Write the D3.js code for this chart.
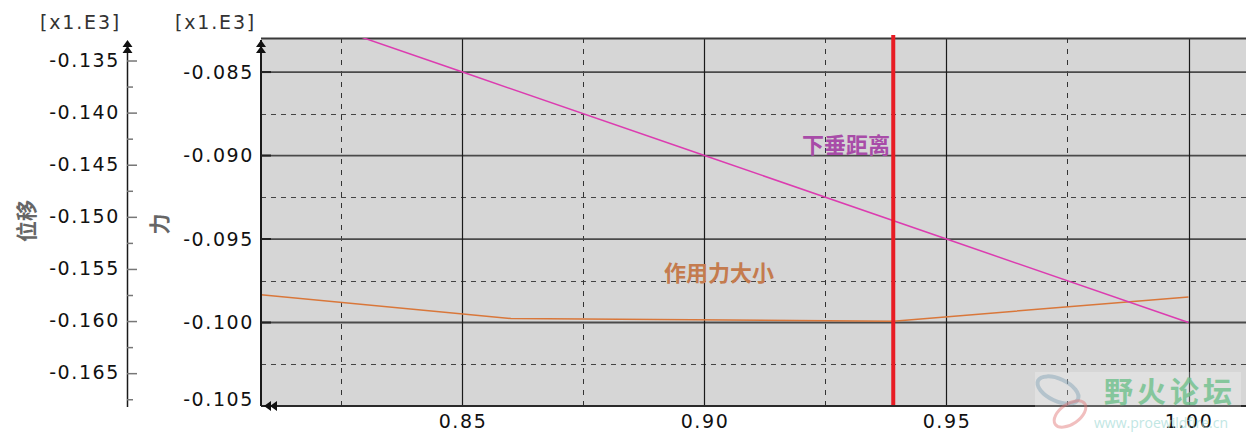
<!DOCTYPE html>
<html><head><meta charset="utf-8">
<script src="https://cdn.jsdelivr.net/npm/d3@7"></script>
<style>html,body{margin:0;padding:0;background:#fff;}svg{display:block;}</style>
</head><body>
<svg id="c" width="1246" height="438"></svg>
<script>
// ---- data ----
const xTicks = [0.85, 0.90, 0.95, 1.00];
const xMinorTicks = [0.825, 0.875, 0.925, 0.975];
const forceTicks = [-0.085, -0.090, -0.095, -0.100, -0.105];
const forceMinorTicks = [-0.0875, -0.0925, -0.0975, -0.1025];
const dispTicks = [-0.135, -0.140, -0.145, -0.150, -0.155, -0.160, -0.165];
const dispMinorTicks = [-0.1375, -0.1425, -0.1475, -0.1525, -0.1575, -0.1625, -0.1675];
const sagX = [0.80, 0.85, 0.90, 0.95, 1.00];
const sagY = [-0.080, -0.085, -0.090, -0.095, -0.100];
const forceX = [0.80, 0.86, 0.939, 1.00];
const forceY = [-0.0981, -0.09976, -0.09992, -0.09847];
const markerX = 0.939;
const labels = { sag: "下垂距离", force: "作用力大小", disp: "位移", forceAxis: "力", scale: "[x1.E3]" };

// ---- layout ----
const svg = d3.select("#c");
const L = 261, R = 1246, T = 38, B = 406;
const x = d3.scaleLinear().domain([0.80837, 1.01188]).range([L, R]);
const yF = d3.scaleLinear().domain([-0.105, -0.08296]).range([B, T]);
const yD = d3.scaleLinear().domain([-0.16815, -0.13284]).range([B, T]);
const loc = d3.formatLocale({ decimal: ".", thousands: ",", grouping: [3], currency: ["", ""], minus: "-" });
const fmt = loc.format(".3f");
const fmt2 = loc.format(".2f");
const tickFont = "'DejaVu Sans', Verdana, sans-serif";
const cjk = "'Noto Sans CJK SC', sans-serif";
const FS = 19, LS = 1.6;

// plot background
svg.append("rect").attr("x", L).attr("y", T).attr("width", R - L).attr("height", B - T).attr("fill", "#d6d6d6");

const clip = svg.append("defs").append("clipPath").attr("id", "pc");
clip.append("rect").attr("x", L).attr("y", T).attr("width", R - L).attr("height", B - T);

// grid
const g = svg.append("g");
g.selectAll(".hm").data(forceMinorTicks).join("line")
  .attr("x1", L).attr("x2", R).attr("y1", d => Math.round(yF(d)) + 0.5).attr("y2", d => Math.round(yF(d)) + 0.5)
  .attr("stroke", "#444").attr("stroke-width", 1).attr("stroke-dasharray", "5,5");
g.selectAll(".vm").data(xMinorTicks).join("line")
  .attr("y1", T).attr("y2", B).attr("x1", d => Math.round(x(d)) + 0.5).attr("x2", d => Math.round(x(d)) + 0.5)
  .attr("stroke", "#333").attr("stroke-width", 1).attr("stroke-dasharray", "5,6");
g.selectAll(".hM").data(forceTicks.slice(0, -1)).join("line")
  .attr("x1", L).attr("x2", R).attr("y1", d => yF(d)).attr("y2", d => yF(d))
  .attr("stroke", "#4a4a4a").attr("stroke-width", 1.8);
g.selectAll(".vM").data(xTicks).join("line")
  .attr("y1", T).attr("y2", B).attr("x1", d => Math.round(x(d)) + 0.5).attr("x2", d => Math.round(x(d)) + 0.5)
  .attr("stroke", "#1a1a1a").attr("stroke-width", 1.2);
// top border
svg.append("line").attr("x1", L).attr("x2", R).attr("y1", T + 0.5).attr("y2", T + 0.5).attr("stroke", "#3a3a3a").attr("stroke-width", 2);

// series
const plot = svg.append("g").attr("clip-path", "url(#pc)");
const lineF = d3.line().x(d => x(d[0])).y(d => yF(d[1]));
plot.append("path").datum(d3.zip(forceX, forceY)).attr("d", lineF)
  .attr("fill", "none").attr("stroke", "#d9773a").attr("stroke-width", 1.5);
plot.append("path").datum(d3.zip(sagX, sagY)).attr("d", lineF)
  .attr("fill", "none").attr("stroke", "#dc3cb0").attr("stroke-width", 1.5);

// marker line
svg.append("line").attr("x1", x(markerX)).attr("x2", x(markerX)).attr("y1", T - 3).attr("y2", B)
  .attr("stroke", "#e81c24").attr("stroke-width", 4);

// series labels
svg.append("text").attr("x", 890).attr("y", 153).attr("text-anchor", "end")
  .attr("font-family", cjk).attr("font-weight", "bold").attr("font-size", 22).attr("fill", "#a84ca8").text(labels.sag);
svg.append("text").attr("x", 664).attr("y", 281)
  .attr("font-family", cjk).attr("font-weight", "bold").attr("font-size", 22).attr("fill", "#c47b4e").text(labels.force);

// bottom axis
svg.append("line").attr("x1", L).attr("x2", R).attr("y1", B).attr("y2", B).attr("stroke", "#2a2a2a").attr("stroke-width", 2);
const xAxis = d3.axisBottom(x).tickValues(xTicks).tickFormat(fmt2).tickSize(0).tickPadding(0);
const xa = svg.append("g").attr("transform", `translate(0,${B})`).call(xAxis);
xa.select(".domain").remove();
xa.selectAll("text").attr("font-family", tickFont).attr("font-size", FS).attr("fill", "#111")
  .attr("dy", null).attr("y", 22).attr("letter-spacing", LS);

// force axis
svg.append("line").attr("x1", L).attr("x2", L).attr("y1", T + 2).attr("y2", B).attr("stroke", "#1a1a1a").attr("stroke-width", 2);
const fAxis = d3.axisLeft(yF).tickValues(forceTicks).tickFormat(fmt).tickSize(0).tickPadding(7);
const fa = svg.append("g").attr("transform", `translate(${L},0)`).call(fAxis);
fa.select(".domain").remove();
fa.selectAll("text").attr("font-family", tickFont).attr("font-size", FS).attr("fill", "#111").attr("letter-spacing", LS)
  .attr("dy", d => d === -0.105 ? "-0.05em" : "0.32em");
svg.selectAll(".ft").data(forceTicks).join("line").attr("x1", L).attr("x2", L + 10)
  .attr("y1", d => yF(d)).attr("y2", d => yF(d)).attr("stroke", "#222").attr("stroke-width", 2);

// displacement axis
const DX = 127;
svg.append("line").attr("x1", DX + 0.5).attr("x2", DX + 0.5).attr("y1", 42).attr("y2", 407).attr("stroke", "#1a1a1a").attr("stroke-width", 1.5);
const dAxis = d3.axisRight(yD).tickValues(dispTicks).tickFormat("").tickSize(10);
const da = svg.append("g").attr("transform", `translate(${DX},0)`).call(dAxis);
da.select(".domain").remove();
da.selectAll("line").attr("stroke", "#777").attr("stroke-width", 1.5);
const dAxisMinor = d3.axisRight(yD).tickValues(dispMinorTicks).tickFormat("").tickSize(6);
const dm = svg.append("g").attr("transform", `translate(${DX},0)`).call(dAxisMinor);
dm.select(".domain").remove();
dm.selectAll("line").attr("stroke", "#777").attr("stroke-width", 1.5);
svg.selectAll(".dl").data(dispTicks).join("text").attr("x", DX - 7).attr("y", d => yD(d)).attr("dy", "0.32em")
  .attr("text-anchor", "end").attr("font-family", tickFont).attr("font-size", FS).attr("fill", "#111").attr("letter-spacing", LS)
  .text(fmt);

// scale labels
svg.append("text").attr("x", 121).attr("y", 29).attr("text-anchor", "end").attr("font-family", tickFont).attr("font-size", FS)
  .attr("fill", "#333").attr("letter-spacing", 1.8).text(labels.scale);
svg.append("text").attr("x", 256).attr("y", 29).attr("text-anchor", "end").attr("font-family", tickFont).attr("font-size", FS)
  .attr("fill", "#333").attr("letter-spacing", 1.8).text(labels.scale);

// axis titles
svg.append("text").attr("transform", "translate(34,221) rotate(-90)").attr("text-anchor", "middle")
  .attr("font-family", cjk).attr("font-weight", "bold").attr("font-size", 21).attr("fill", "#666").text(labels.disp);
svg.append("text").attr("transform", "translate(167,224) rotate(-90)").attr("text-anchor", "middle")
  .attr("font-family", cjk).attr("font-weight", "bold").attr("font-size", 21).attr("fill", "#666").text(labels.forceAxis);

// arrowheads
function upArrows(cx, top) {
  const p = d3.path();
  [0, 6].forEach(o => { p.moveTo(cx, top + o); p.lineTo(cx - 5, top + o + 7); p.lineTo(cx + 5, top + o + 7); p.closePath(); });
  svg.append("path").attr("d", p.toString()).attr("fill", "#111");
}
upArrows(DX + 0.5, 40);
upArrows(L, 40);
(function leftArrows() {
  const p = d3.path();
  [0, 6].forEach(o => { p.moveTo(264 + o, B); p.lineTo(271 + o, B - 5); p.lineTo(271 + o, B + 5); p.closePath(); });
  svg.append("path").attr("d", p.toString()).attr("fill", "#111");
})();

// watermark
const wm = svg.append("g");
wm.append("rect").attr("x", 1035).attr("y", 372).attr("width", 206).attr("height", 36).attr("fill", "#fff").attr("opacity", 0.25);
wm.append("ellipse").attr("cx", 1058).attr("cy", 390).attr("rx", 22).attr("ry", 11).attr("transform", "rotate(25 1058 390)")
  .attr("fill", "none").attr("stroke", "#7f9fb3").attr("stroke-width", 4).attr("opacity", 0.45);
wm.append("ellipse").attr("cx", 1070).attr("cy", 414).attr("rx", 18).attr("ry", 10).attr("transform", "rotate(-35 1070 414)")
  .attr("fill", "none").attr("stroke", "#e07070").attr("stroke-width", 3).attr("opacity", 0.45);
wm.append("text").attr("x", 1104).attr("y", 403).attr("font-family", cjk).attr("font-weight", "bold").attr("font-size", 29)
  .attr("fill", "#6fc08c").attr("opacity", 0.8).attr("letter-spacing", 4).text("野火论坛");
wm.append("text").attr("x", 1094).attr("y", 428).attr("font-family", "'Open Sans', sans-serif").attr("font-size", 14)
  .attr("fill", "#a8dcd8").attr("opacity", 0.7).text("www.proewildfire.cn");
</script>
</body></html>
